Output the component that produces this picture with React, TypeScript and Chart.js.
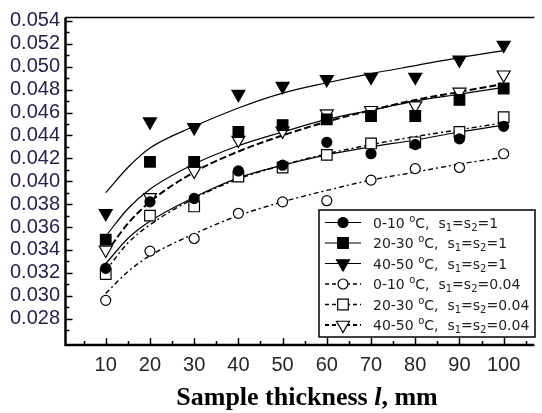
import React, { useEffect, useRef } from 'react';
import { Chart, registerables } from 'chart.js';

Chart.register(...registerables);

// ---------- data ----------
const thickness = [10, 20, 30, 40, 50, 60, 70, 80, 90, 100];

// measured points
const pts_0_10_s1 = [0.0324, 0.0382, 0.0385, 0.0409, 0.0414, 0.0434, 0.0424, 0.0432, 0.0437, 0.0448];
const pts_20_30_s1 = [0.0349, 0.0417, 0.0417, 0.0443, 0.0449, 0.0454, 0.0457, 0.0457, 0.0471, 0.0481];
const pts_40_50_s1 = [0.0372, 0.0452, 0.0447, 0.0476, 0.0483, 0.0489, 0.0491, 0.0491, 0.0506, 0.0519];
const pts_0_10_s004 = [0.0296, 0.0339, 0.0350, 0.0372, 0.0382, 0.0383, 0.0401, 0.0411, 0.0412, 0.0424];
const pts_20_30_s004 = [0.0319, 0.0370, 0.0378, 0.0404, 0.0412, 0.0423, 0.0433, 0.0434, 0.0443, 0.0456];
const pts_40_50_s004 = [0.0340, 0.0386, 0.0409, 0.0436, 0.0444, 0.0459, 0.0462, 0.0466, 0.0478, 0.0493];

// fitted curves
const fitThickness = [10, 15, 20, 30, 40, 50, 60, 70, 80, 90, 100];
const fit_0_10_s1 = [0.0328, 0.0350, 0.0365, 0.0386, 0.0403, 0.0414, 0.0423, 0.0430, 0.0436, 0.0443, 0.0449];
const fit_20_30_s1 = [0.0352, 0.0376, 0.0393, 0.0415, 0.0431, 0.0443, 0.0454, 0.0462, 0.0470, 0.0476, 0.0482];
const fit_40_50_s1 = [0.0390, 0.0412, 0.0429, 0.0448, 0.0464, 0.0477, 0.0486, 0.0494, 0.0501, 0.0508, 0.0514];
const fit_0_10_s004 = [0.0302, 0.0321, 0.0335, 0.0354, 0.0370, 0.0382, 0.0392, 0.0401, 0.0408, 0.0415, 0.0421];
const fit_20_30_s004 = [0.0322, 0.0346, 0.0362, 0.0385, 0.0402, 0.0414, 0.0424, 0.0432, 0.0439, 0.0445, 0.0451];
const fit_40_50_s004 = [0.0337, 0.0363, 0.0382, 0.0408, 0.0426, 0.0440, 0.0452, 0.0462, 0.0471, 0.0478, 0.0485];

const xTicks = [10, 20, 30, 40, 50, 60, 70, 80, 90, 100];
const xMinorTicks = [5, 15, 25, 35, 45, 55, 65, 75, 85, 95, 105];
const yTicks = [0.028, 0.030, 0.032, 0.034, 0.036, 0.038, 0.040, 0.042, 0.044, 0.046, 0.048, 0.050, 0.052, 0.054];
const yMinorTicks = [0.027, 0.029, 0.031, 0.033, 0.035, 0.037, 0.039, 0.041, 0.043, 0.045, 0.047, 0.049, 0.051, 0.053];

const legendTemps = ['0-10', '20-30', '40-50', '0-10', '20-30', '40-50'];
const legendS = ['1', '1', '1', '0.04', '0.04', '0.04'];
const xTitleMain = 'Sample thickness ';
const xTitleVar = 'l';
const xTitleUnit = ', mm';

type Marker = 'circle' | 'rect' | 'tri';
const seriesPts = [pts_0_10_s1, pts_20_30_s1, pts_40_50_s1, pts_0_10_s004, pts_20_30_s004, pts_40_50_s004];
const seriesFit = [fit_0_10_s1, fit_20_30_s1, fit_40_50_s1, fit_0_10_s004, fit_20_30_s004, fit_40_50_s004];
const seriesMarker: Marker[] = ['circle', 'rect', 'tri', 'circle', 'rect', 'tri'];
const seriesFilled = [true, true, true, false, false, false];
const seriesDash: number[][] = [[], [], [], [5, 3, 2, 3], [5, 3, 2, 3], [7, 3]];
const seriesLineWidth = [1.2, 1.2, 1.2, 1.4, 1.4, 2];

function drawMarker(ctx: CanvasRenderingContext2D, m: Marker, x: number, y: number, filled: boolean) {
  ctx.save();
  ctx.setLineDash([]);
  ctx.lineWidth = 1.2;
  ctx.strokeStyle = '#000';
  ctx.fillStyle = filled ? '#000' : '#fff';
  ctx.beginPath();
  if (m === 'circle') {
    ctx.arc(x, y, 5, 0, Math.PI * 2);
  } else if (m === 'rect') {
    ctx.rect(x - 5.3, y - 5.3, 10.6, 10.6);
  } else {
    const r = 7.5;
    ctx.moveTo(x, y + r);
    ctx.lineTo(x - r * Math.sin(Math.PI / 3), y - r / 2);
    ctx.lineTo(x + r * Math.sin(Math.PI / 3), y - r / 2);
    ctx.closePath();
  }
  ctx.fill();
  ctx.stroke();
  ctx.restore();
}

const overlayPlugin = {
  id: 'overlay',
  afterDraw(chart: any) {
    const ctx: CanvasRenderingContext2D = chart.ctx;
    const area = chart.chartArea;
    const xs = chart.scales.x;
    const ys = chart.scales.y;
    ctx.save();
    ctx.strokeStyle = '#000';
    // axes
    ctx.lineWidth = 2.5;
    ctx.beginPath();
    ctx.moveTo(area.left, area.top);
    ctx.lineTo(area.left, area.bottom);
    ctx.lineTo(area.right + 1, area.bottom);
    ctx.stroke();
    ctx.lineWidth = 1.5;
    ctx.beginPath();
    ctx.moveTo(area.left, area.top);
    ctx.lineTo(area.right + 1, area.top);
    ctx.stroke();
    // inward ticks
    ctx.lineWidth = 1.5;
    ctx.beginPath();
    yTicks.forEach((v) => {
      const p = Math.round(ys.getPixelForValue(v)) + 0.5;
      ctx.moveTo(area.left, p);
      ctx.lineTo(area.left + 7, p);
    });
    yMinorTicks.forEach((v) => {
      const p = Math.round(ys.getPixelForValue(v)) + 0.5;
      ctx.moveTo(area.left, p);
      ctx.lineTo(area.left + 4, p);
    });
    xTicks.forEach((v) => {
      const p = Math.round(xs.getPixelForValue(v)) + 0.5;
      ctx.moveTo(p, area.bottom);
      ctx.lineTo(p, area.bottom - 7);
    });
    xMinorTicks.forEach((v) => {
      const p = Math.round(xs.getPixelForValue(v)) + 0.5;
      ctx.moveTo(p, area.bottom);
      ctx.lineTo(p, area.bottom - 4);
    });
    ctx.stroke();

    // legend box
    const bx = 319, by = 210, bw = 216, bh = 127;
    ctx.fillStyle = '#fff';
    ctx.fillRect(bx, by, bw, bh);
    ctx.lineWidth = 1.5;
    ctx.strokeRect(bx, by, bw, bh);
    const rowY0 = 222.5, rowStep = 20.5;
    for (let i = 0; i < 6; i++) {
      const cy = rowY0 + i * rowStep;
      ctx.save();
      ctx.lineWidth = seriesLineWidth[i];
      ctx.setLineDash(seriesDash[i].length ? [4, 3] : []);
      ctx.beginPath();
      ctx.moveTo(325, cy);
      ctx.lineTo(361, cy);
      ctx.stroke();
      ctx.restore();
      drawMarker(ctx, seriesMarker[i], 343, cy, seriesFilled[i]);
      // rich text
      let x = 373;
      const base = cy + 5;
      const norm = '14px "DejaVu Sans"';
      const small = '10px "DejaVu Sans"';
      ctx.fillStyle = '#222';
      ctx.textBaseline = 'alphabetic';
      ctx.textAlign = 'left';
      const seg = (t: string, f: string, dy: number) => {
        ctx.font = f;
        ctx.fillText(t, x, base + dy);
        x += ctx.measureText(t).width;
      };
      seg(legendTemps[i] + ' ', norm, 0);
      seg('o', small, -6);
      seg('C,  s', norm, 0);
      seg('1', small, 3);
      seg('=s', norm, 0);
      seg('2', small, 3);
      seg('=' + legendS[i], norm, 0);
    }

    // x title
    const fB = 'bold 26px "Liberation Serif"';
    const fI = 'bold italic 26px "Liberation Serif"';
    ctx.font = fB;
    const w1 = ctx.measureText(xTitleMain).width;
    const w3 = ctx.measureText(xTitleUnit).width;
    ctx.font = fI;
    const w2 = ctx.measureText(xTitleVar).width;
    let tx = 307 - (w1 + w2 + w3) / 2;
    const ty = 405;
    ctx.fillStyle = '#000';
    ctx.font = fB;
    ctx.fillText(xTitleMain, tx, ty);
    tx += w1;
    ctx.font = fI;
    ctx.fillText(xTitleVar, tx, ty);
    tx += w2;
    ctx.font = fB;
    ctx.fillText(xTitleUnit, tx, ty);
    ctx.restore();
  },
};

export default function App() {
  const ref = useRef<HTMLCanvasElement | null>(null);
  useEffect(() => {
    if (!ref.current) return;
    const pointDatasets = seriesPts.map((arr, i) => ({
      data: thickness.map((x, j) => ({ x, y: arr[j] })),
      showLine: false,
      pointStyle: seriesMarker[i] === 'tri' ? 'triangle' : seriesMarker[i],
      rotation: seriesMarker[i] === 'tri' ? 180 : 0,
      pointRadius: seriesMarker[i] === 'circle' ? 5 : 7.5,
      pointBorderWidth: 1.2,
      pointBorderColor: '#000',
      pointBackgroundColor: seriesFilled[i] ? '#000' : '#fff',
    }));
    const fitDatasets = seriesFit.map((arr, i) => ({
      data: fitThickness.map((x, j) => ({ x, y: arr[j] })),
      showLine: true,
      pointRadius: 0,
      borderColor: '#000',
      borderWidth: seriesLineWidth[i],
      borderDash: seriesDash[i],
      cubicInterpolationMode: 'monotone',
      fill: false,
    }));
    const chart = new Chart(ref.current, {
      type: 'scatter',
      data: { datasets: [...pointDatasets, ...fitDatasets] as any },
      options: {
        animation: false,
        responsive: false,
        devicePixelRatio: 1,
        layout: { padding: { top: 11, right: 1, left: 0, bottom: 0 } },
        plugins: { legend: { display: false }, tooltip: { enabled: false } },
        scales: {
          x: {
            type: 'linear',
            min: 0.9,
            max: 106.7,
            afterBuildTicks: (s: any) => { s.ticks = xTicks.map((v) => ({ value: v })); },
            afterFit: (s: any) => { s.height = 68; },
            grid: { display: false, drawTicks: false },
            border: { display: false },
            ticks: {
              autoSkip: false,
              maxRotation: 0,
              padding: 8,
              color: '#262626',
              font: { family: 'Arial', size: 20 },
              callback: (v: any) => String(v),
            },
          },
          y: {
            type: 'linear',
            min: 0.0257,
            max: 0.0543,
            afterBuildTicks: (s: any) => { s.ticks = yTicks.map((v) => ({ value: v })); },
            afterFit: (s: any) => { s.width = 65.5; },
            grid: { display: false, drawTicks: false },
            border: { display: false },
            ticks: {
              autoSkip: false,
              padding: 5.5,
              color: '#24244a',
              font: { family: 'Arial', size: 20 },
              callback: (v: any) => Number(v).toFixed(3),
            },
          },
        },
      } as any,
      plugins: [overlayPlugin],
    });
    return () => chart.destroy();
  }, []);
  return (
    <div style={{ position: 'absolute', left: 0, top: 0, width: 542, height: 413, background: '#fff' }}>
      <canvas ref={ref} width={542} height={413} style={{ width: 542, height: 413 }} />
    </div>
  );
}
